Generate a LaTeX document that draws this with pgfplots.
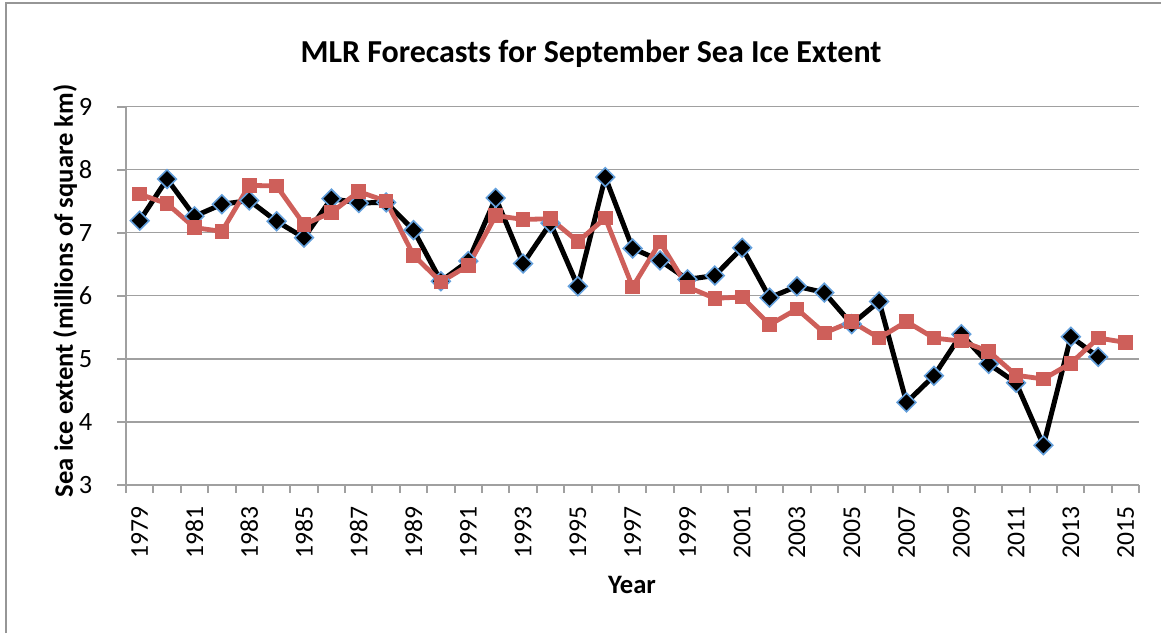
\documentclass[border=0pt]{standalone}
\usepackage{pgfplots}
\pgfplotsset{compat=1.18}
\usepackage{fontspec}
\setmainfont{Carlito}
\definecolor{obsblack}{RGB}{0,0,0}
\definecolor{mkblue}{RGB}{100,160,220}
\definecolor{fcred}{RGB}{206,95,90}
\definecolor{axgray}{RGB}{160,160,160}
\definecolor{framegray}{RGB}{150,150,150}
\begin{document}
\begin{tikzpicture}
\path[use as bounding box] (-63pt,-74pt) rectangle (517.5pt,242.5pt);
\draw[framegray, line width=1pt] (-59.75pt,-74pt) -- (-59.75pt,241pt) -- (517.5pt,241pt);
\begin{axis}[
  scale only axis,
  width=506.65pt, height=189.25pt,
  xmin=1978.5, xmax=2015.5,
  ymin=3, ymax=9,
  ytick={3,4,5,6,7,8,9},
  xtick={1979,1981,...,2015},
  xticklabels={1979,1981,1983,1985,1987,1989,1991,1993,1995,1997,1999,2001,2003,2005,2007,2009,2011,2013,2015},
  minor xtick={1978.5,1979.5,...,2015.5},
  major x tick style={draw=none},
  minor x tick style={axgray, line width=1pt},
  major y tick style={axgray, line width=1pt},
  tick align=outside,
  major tick length=4.3pt,
  minor tick length=4pt,
  axis x line*=bottom,
  axis y line*=left,
  axis line style={axgray, line width=1pt, -},
  ymajorgrids,
  major grid style={axgray, line width=0.7pt},
  font=\fontsize{12.8pt}{15pt}\selectfont,
  /pgf/number format/assume math mode=true,
  xticklabel style={yshift=-3pt, rotate=90, anchor=east, font=\fontsize{12.8pt}{15pt}\selectfont},
  yticklabel style={xshift=-9pt, font=\fontsize{13.2pt}{15pt}\selectfont},
  title={MLR Forecasts for September Sea Ice Extent},
  title style={at={(axis description cs:0.5,1)}, anchor=center, xshift=-20.8pt, yshift=20.25pt, font=\fontsize{16pt}{19pt}\selectfont\bfseries},
  xlabel={Year},
  xlabel style={at={(axis description cs:0.4994,0)}, anchor=center, yshift=-50pt, font=\fontsize{13.3pt}{15pt}\selectfont\bfseries},
  ylabel={Sea ice extent (millions of square km)},
  ylabel style={at={(axis description cs:-0.0602,0.513)}, anchor=center, font=\fontsize{13.3pt}{15pt}\selectfont\bfseries},
  clip=false,
]
\addplot[obsblack, line width=2.5pt, mark=square*, mark size=3.3pt,
  mark options={rotate=45, fill=black, draw=mkblue, line width=0.8pt}] coordinates {
(1979,7.19) (1980,7.85) (1981,7.26) (1982,7.45) (1983,7.51) (1984,7.18)
(1985,6.92) (1986,7.54) (1987,7.47) (1988,7.48) (1989,7.04) (1990,6.23)
(1991,6.55) (1992,7.55) (1993,6.51) (1994,7.15) (1995,6.15) (1996,7.88)
(1997,6.75) (1998,6.56) (1999,6.26) (2000,6.32) (2001,6.76) (2002,5.97)
(2003,6.15) (2004,6.05) (2005,5.55) (2006,5.91) (2007,4.31) (2008,4.73)
(2009,5.39) (2010,4.92) (2011,4.62) (2012,3.63) (2013,5.35) (2014,5.03)
};
\addplot[fcred, line width=2.4pt, mark=square*, mark size=3.4pt,
  mark options={fill=fcred, draw=fcred, line width=0.5pt}] coordinates {
(1979,7.61) (1980,7.46) (1981,7.08) (1982,7.02) (1983,7.75) (1984,7.74)
(1985,7.13) (1986,7.32) (1987,7.65) (1988,7.50) (1989,6.64) (1990,6.22)
(1991,6.48) (1992,7.27) (1993,7.21) (1994,7.22) (1995,6.86) (1996,7.23)
(1997,6.14) (1998,6.85) (1999,6.14) (2000,5.96) (2001,5.98) (2002,5.54)
(2003,5.79) (2004,5.41) (2005,5.59) (2006,5.33) (2007,5.59) (2008,5.33)
(2009,5.28) (2010,5.12) (2011,4.74) (2012,4.68) (2013,4.93) (2014,5.33)
(2015,5.26)
};
\end{axis}
\end{tikzpicture}
\end{document}
